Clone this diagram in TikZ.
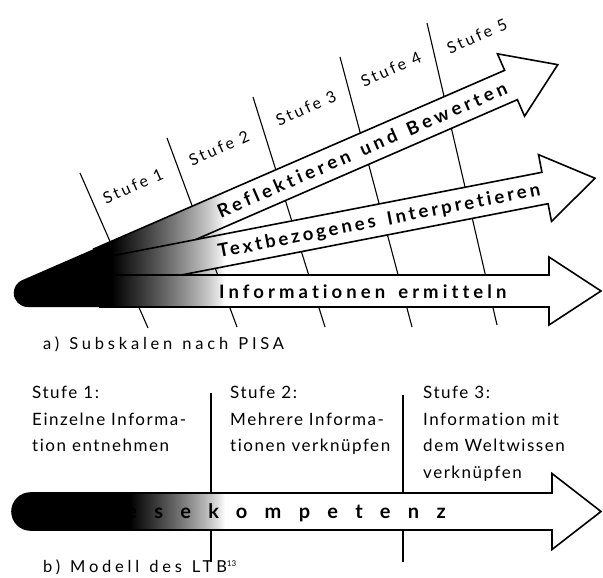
\documentclass[tikz,border=0pt]{standalone}
\usepackage{fontspec}
\setmainfont{Lato}[Ligatures={NoCommon,ContextualOff}]
\newcommand\wordgap[1]{\spaceskip #1\relax}
\newcommand\lblfont[2]{\fontsize{18.5}{20}\selectfont\bfseries\addfontfeature{LetterSpace=#1}\wordgap{#2}}
\tikzset{
  stufeline/.style={line width=1.1pt},
  band/.style={fill=white, draw=black, line width=1.6pt, line join=miter},
  bandlabel/.style={inner sep=0pt, anchor=base west},
  stufelabel/.style={inner sep=0pt, rotate=24, font={\fontsize{16}{18}\selectfont\addfontfeature{LetterSpace=17}\wordgap{7pt}}},
  coltext/.style={inner sep=0pt, anchor=north west, align=left, font={\fontsize{17}{26.5}\selectfont\addfontfeature{LetterSpace=9}\wordgap{6pt}}},
  captext/.style={inner sep=0pt, anchor=base west, font={\fontsize{16.5}{18}\selectfont\addfontfeature{LetterSpace=23}\wordgap{10pt}}},
}
\begin{document}
\begin{tikzpicture}[x=1pt,y=-1pt]
\useasboundingbox (0,0) rectangle (603,578);

% ---------- a) level lines ----------
\coordinate (t1a) at (80,173);  \coordinate (t1b) at (148,328);
\coordinate (t2a) at (167,138); \coordinate (t2b) at (237,327);
\coordinate (t3a) at (253,97);  \coordinate (t3b) at (325,327);
\coordinate (t4a) at (340,57);  \coordinate (t4b) at (412,327);
\coordinate (t5a) at (427,23);  \coordinate (t5b) at (497,325);
\foreach \i in {1,...,5} \draw[stufeline] (t\i a) -- (t\i b);

% ---------- a) arrows ----------
\begin{scope}[shift={(511,85)}, rotate=23.5]
  \path[band] (-448,-16) -- (0,-16) -- (0,-34) -- (51,0) -- (0,34) -- (0,16) -- (-448,16) -- cycle;
\end{scope}
\begin{scope}[shift={(545,188)}, rotate=11]
  \path[band] (-453,-16) -- (0,-16) -- (0,-34) -- (51,0) -- (0,34) -- (0,16) -- (-453,16) -- cycle;
\end{scope}
\begin{scope}[shift={(549,291)}]
  \path[band] (-449,-16) -- (0,-16) -- (0,-34) -- (52,0) -- (0,34) -- (0,16) -- (-449,16) -- cycle;
\end{scope}

% dark origin of the fan
\begin{scope}
  \clip (22.1,280.2) -- (225,191.9) -- (225,307) -- (27.7,307)
        arc[start angle=90, end angle=246.5, radius=14] -- cycle;
  \fill[black] (0,150) rectangle (112,330);
  \foreach \k in {0,...,112} {
    \pgfmathsetmacro\op{(1-(\k+0.5)/113)^0.8}
    \fill[black, fill opacity=\op] (112+\k,150) rectangle (113+\k,330);
  }
\end{scope}

% arrow labels
\begin{scope}[shift={(511,85)}, rotate=23.5]
  \node[bandlabel, rotate=23.5, font={\lblfont{21}{12pt}}] (lab1) at (-319.5,6.5) {Reflektieren und Bewerten};
\end{scope}
\begin{scope}[shift={(545,188)}, rotate=11]
  \node[bandlabel, rotate=11, font={\lblfont{17}{12pt}}] (lab2) at (-333.1,6.5) {Textbezogenes Interpretieren};
\end{scope}
\node[bandlabel, font={\lblfont{22}{13pt}}] (lab3) at (219,298) {Informationen ermitteln};

% level labels a)
\node[stufelabel] (s1) at (133,186) {Stufe 1};
\node[stufelabel] (s2) at (219,148) {Stufe 2};
\node[stufelabel] (s3) at (306,108) {Stufe 3};
\node[stufelabel] (s4) at (391,69) {Stufe 4};
\node[stufelabel] (s5) at (477,36) {Stufe 5};

\node[captext] (capa) at (43,349) {a) Subskalen nach PISA};

% ---------- b) ----------
\coordinate (b1a) at (211,393); \coordinate (b1b) at (211,562);
\coordinate (b2a) at (403,395); \coordinate (b2b) at (403,562);
\draw[stufeline] (b1a) -- (b1b);
\draw[stufeline] (b2a) -- (b2b);

\path[band] (30.5,530) arc[start angle=90, end angle=270, radius=18.5] -- (552,493) -- (552,473.5)
  -- (601,511.5) -- (552,549.5) -- (552,530) -- cycle;
\node[bandlabel, font={\fontsize{20}{22}\selectfont\bfseries\addfontfeature{LetterSpace=86.5}}] (lk) at (99,518.5) {Lesekompetenz};
\begin{scope}
  \clip (30.5,530) arc[start angle=90, end angle=270, radius=18.5] -- (552,493) -- (552,530) -- cycle;
  \fill[black] (0,480) rectangle (130,540);
  \foreach \k in {0,...,94} {
    \pgfmathsetmacro\op{(1-(\k+0.5)/95)^0.8}
    \fill[black, fill opacity=\op] (130+\k,480) rectangle (131+\k,540);
  }
\end{scope}

\node[coltext] (c1) at (32,386) {Stufe 1:\\Einzelne Informa-\\tion entnehmen};
\node[coltext] (c2) at (230,386) {Stufe 2:\\Mehrere Informa-\\tionen verknüpfen};
\node[coltext] (c3) at (423,386) {Stufe 3:\\Information mit\\dem Weltwissen\\verknüpfen};

\node[captext] (capb) at (43,572) {b) Modell des LTB\raisebox{6pt}{\fontsize{8}{8}\selectfont\addfontfeature{LetterSpace=0}13}};
\end{tikzpicture}
\end{document}
